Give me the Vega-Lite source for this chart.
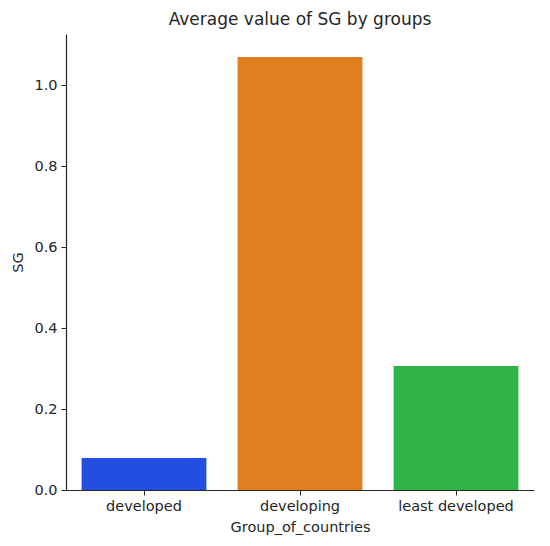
{
  "$schema": "https://vega.github.io/schema/vega-lite/v6.json",
  "autosize": "none",
  "padding": {"left": 66, "top": 34, "right": 16, "bottom": 56},
  "width": 468,
  "height": 456,
  "background": "white",
  "data": {
    "values": [
      {"Group_of_countries": "developed", "SG": 0.079},
      {"Group_of_countries": "developing", "SG": 1.069},
      {"Group_of_countries": "least developed", "SG": 0.306}
    ]
  },
  "title": {
    "text": "Average value of SG by groups",
    "fontSize": 17,
    "fontWeight": "normal",
    "font": "DejaVu Sans",
    "color": "#262626",
    "offset": 5
  },
  "mark": {"type": "bar"},
  "encoding": {
    "x": {
      "field": "Group_of_countries",
      "type": "nominal",
      "title": "Group_of_countries",
      "scale": {"paddingInner": 0.2, "paddingOuter": 0.1},
      "axis": {"labelAngle": 0, "titleFontWeight": "normal", "titlePadding": 8}
    },
    "y": {
      "field": "SG",
      "type": "quantitative",
      "title": "SG",
      "scale": {"domain": [0, 1.126], "nice": false},
      "axis": {"values": [0, 0.2, 0.4, 0.6, 0.8, 1.0], "format": ".1f", "grid": false, "titleFontWeight": "normal", "titlePadding": 8}
    },
    "color": {
      "field": "Group_of_countries",
      "type": "nominal",
      "scale": {"range": ["#224fdf", "#df7d20", "#30b346"]},
      "legend": null
    }
  },
  "config": {
    "view": {"stroke": null},
    "font": "DejaVu Sans",
    "axis": {
      "labelFont": "DejaVu Sans",
      "titleFont": "DejaVu Sans",
      "labelFontSize": 14.5,
      "titleFontSize": 14.5,
      "labelColor": "#262626",
      "titleColor": "#262626",
      "domainColor": "#262626",
      "tickColor": "#262626",
      "tickSize": 5,
      "domainWidth": 1.2,
      "labelPadding": 4
    }
  }
}
